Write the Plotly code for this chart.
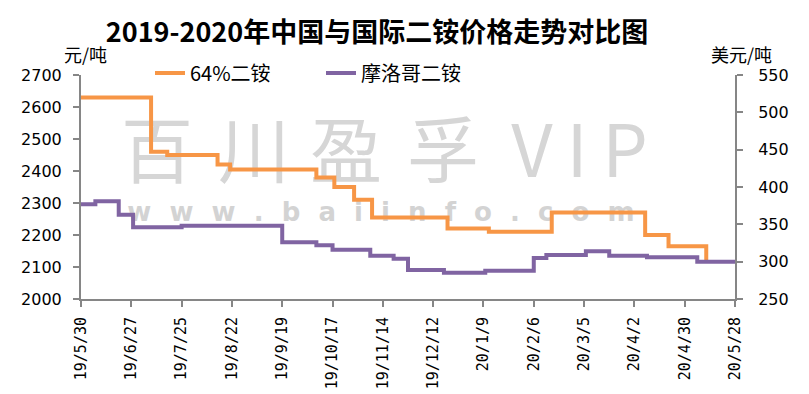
import plotly.graph_objects as go
import pandas as pd

# ---------------- data ----------------
orange_name = "64%二铵"
orange_dates = ["2019-05-30", "2019-07-08", "2019-07-17", "2019-08-14", "2019-08-21",
                "2019-10-08", "2019-10-18", "2019-10-29", "2019-11-08", "2019-12-20",
                "2020-01-12", "2020-02-16", "2020-04-08", "2020-04-21", "2020-05-12"]
orange_vals = [2630, 2460, 2450, 2420, 2405, 2380, 2350, 2310, 2255, 2220,
               2210, 2270, 2200, 2165, 2115]

purple_name = "摩洛哥二铵"
purple_dates = ["2019-05-30", "2019-06-07", "2019-06-20", "2019-06-28", "2019-07-25",
                "2019-09-19", "2019-10-08", "2019-10-17", "2019-11-07", "2019-11-20",
                "2019-11-28", "2019-12-18", "2020-01-10", "2020-02-06", "2020-02-13",
                "2020-03-06", "2020-03-19", "2020-04-09", "2020-05-07", "2020-05-28"]
purple_vals = [377, 381, 363, 346, 348, 326, 322, 316, 308, 304,
               289, 285, 288, 305, 309, 314, 308, 306, 300, 300]

tick_dates = ["2019-05-30", "2019-06-27", "2019-07-25", "2019-08-22", "2019-09-19",
              "2019-10-17", "2019-11-14", "2019-12-12", "2020-01-09", "2020-02-06",
              "2020-03-05", "2020-04-02", "2020-04-30", "2020-05-28"]
tick_labels = ["19/5/30", "19/6/27", "19/7/25", "19/8/22", "19/9/19", "19/10/17",
               "19/11/14", "19/12/12", "20/1/9", "20/2/6", "20/3/5", "20/4/2",
               "20/4/30", "20/5/28"]

title_text = "2019-2020年中国与国际二铵价格走势对比图"
left_unit = "元/吨"
right_unit = "美元/吨"

wm_big_chars = ["百", "川", "盈", "孚", "V", "I", "P"]
wm_small_text = "www.baiinfo.com"

# ---------------- layout geometry ----------------
W, H = 809, 394
L, R, T, B = 81, 74, 75, 95
PW, PH = W - L - R, H - T - B
start = pd.Timestamp("2019-05-30")
end = pd.Timestamp("2020-05-28")
span_days = (end - start).days
ymin, ymax = 2000, 2700


def px_to_data(xp, yp):
    fx = (xp - L) / PW
    fy = (H - B - yp) / PH
    return start + pd.Timedelta(days=fx * span_days), ymin + fy * (ymax - ymin)


def px_to_paper(xp, yp):
    return (xp - L) / PW, (H - B - yp) / PH


wm_big_px = [157, 254, 346, 443, 532, 577, 625]
big_pts = [px_to_data(x, 159) for x in wm_big_px]
small_pt = px_to_data(381, 214)
spaced_small = ("\u00a0\u00a0").join(list(wm_small_text))

AX = "#868686"
fig = go.Figure()

fig.add_trace(go.Scatter(
    x=[p[0] for p in big_pts], y=[p[1] for p in big_pts], text=wm_big_chars,
    mode="text", textposition="middle center",
    textfont=dict(size=72, color="#d6d6d6", family="Noto Sans CJK SC"),
    hoverinfo="skip", showlegend=False, cliponaxis=False))
fig.add_trace(go.Scatter(
    x=[small_pt[0]], y=[small_pt[1]], text=[spaced_small],
    mode="text", textposition="middle center",
    textfont=dict(size=26, color="#d3d3d3", family="DejaVu Sans", weight="bold"),
    hoverinfo="skip", showlegend=False, cliponaxis=False))

fig.add_trace(go.Scatter(
    x=orange_dates, y=orange_vals, name=orange_name, mode="lines",
    line=dict(color="#F79646", width=4, shape="hv"), yaxis="y"))
fig.add_trace(go.Scatter(
    x=purple_dates, y=purple_vals, name=purple_name, mode="lines",
    line=dict(color="#8064A2", width=4, shape="hv"), yaxis="y2"))

axis_common = dict(showgrid=False, zeroline=False, showline=True, linecolor=AX,
                   linewidth=2, ticks="outside", ticklen=6, tickcolor=AX, tickwidth=2,
                   automargin=False)

fig.update_layout(
    width=W, height=H,
    margin=dict(l=L, r=R, t=T, b=B, autoexpand=False),
    paper_bgcolor="white", plot_bgcolor="white",
    title=dict(text="<b>" + title_text + "</b>", x=377 / W, y=1 - 33 / H,
               xref="container", yref="container", xanchor="center", yanchor="middle",
               font=dict(family="Noto Sans CJK SC", size=27, color="black")),
    xaxis=dict(type="date", range=[start, end], tickvals=tick_dates, ticktext=tick_labels,
               tickangle=-90, ticklabelstandoff=4,
               tickfont=dict(family="DejaVu Sans Mono", size=15, color="black"),
               **axis_common),
    yaxis=dict(range=[ymin, ymax], dtick=100, ticklabelstandoff=8,
               tickfont=dict(family="DejaVu Sans", size=16, color="black"),
               **axis_common),
    yaxis2=dict(range=[250, 550], dtick=50, overlaying="y", side="right",
                ticklabelstandoff=12,
                tickfont=dict(family="DejaVu Sans", size=16, color="black"),
                **axis_common),
    legend=dict(orientation="h", xref="container", yref="container",
                x=150 / W, y=1 - 73 / H, xanchor="left", yanchor="middle",
                bgcolor="rgba(0,0,0,0)", entrywidth=126, entrywidthmode="pixels",
                font=dict(family="Noto Sans CJK SC", size=20, color="black")),
    showlegend=True,
)

ax1, ay1 = px_to_paper(85, 54)
ax2, ay2 = px_to_paper(741, 54)
fig.add_annotation(text=left_unit, x=ax1, y=ay1, xref="paper", yref="paper",
                   showarrow=False, xanchor="center", yanchor="middle",
                   font=dict(family="Noto Sans CJK SC", size=18, color="black"))
fig.add_annotation(text=right_unit, x=ax2, y=ay2, xref="paper", yref="paper",
                   showarrow=False, xanchor="center", yanchor="middle",
                   font=dict(family="Noto Sans CJK SC", size=18, color="black"))

fig.write_html("out.html")
